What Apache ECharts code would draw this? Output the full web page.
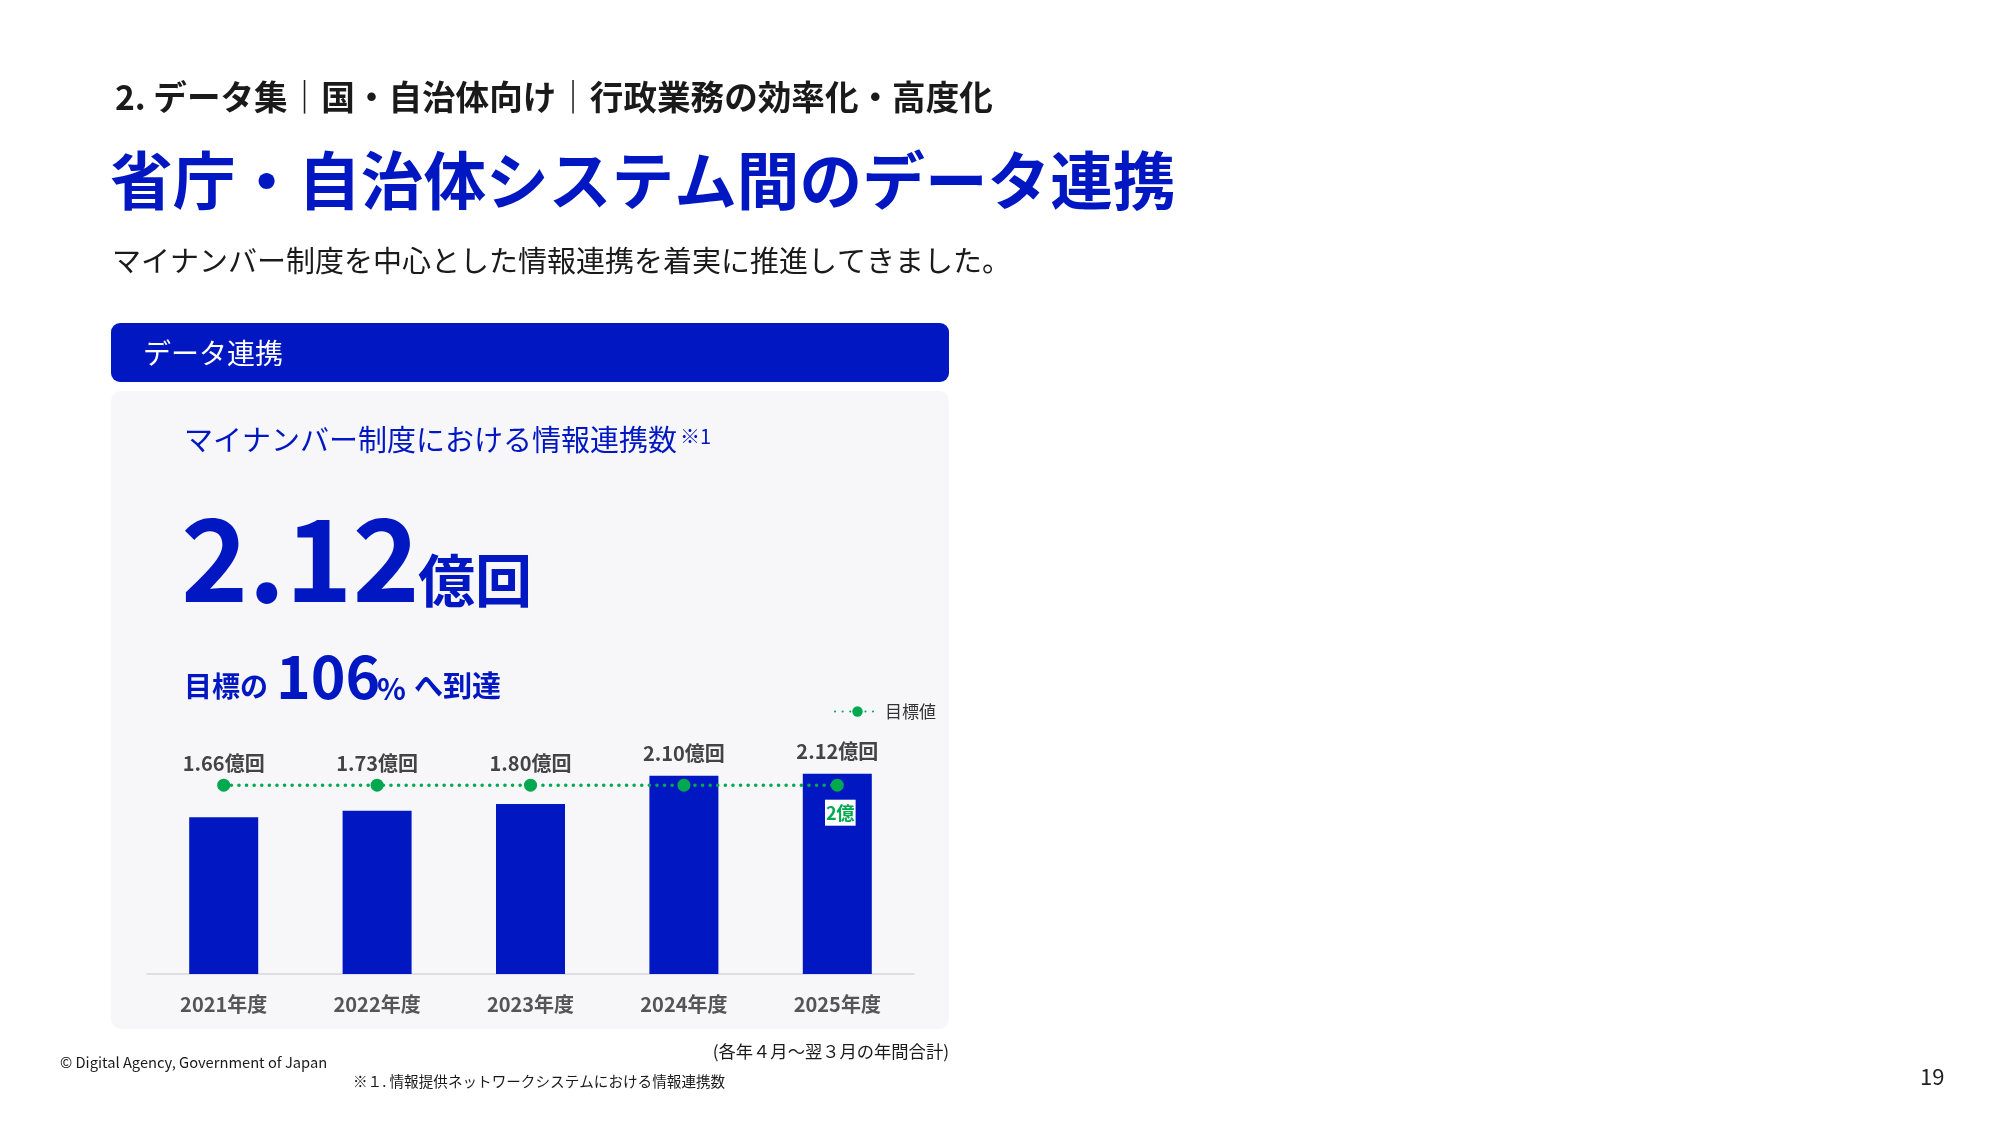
<!DOCTYPE html>
<html>
<head>
<meta charset="utf-8">
<script src="https://cdn.jsdelivr.net/npm/echarts@6/dist/echarts.min.js"></script>
<style>
html,body{margin:0;padding:0;background:#fff;}
#c{width:2000px;height:1125px;}
</style>
</head>
<body>
<div id="c"></div>
<script>
const categories = ['2021年度', '2022年度', '2023年度', '2024年度', '2025年度'];
const actualValues = [1.66, 1.73, 1.80, 2.10, 2.12];
const targetValues = [2, 2, 2, 2, 2];
const valueUnit = '億回';
const targetLabel = '2億';
const legendName = '目標値';

const FONT = '"Noto Sans CJK JP", "Noto Sans", sans-serif';
const BLUE = '#0017C1';
const GREEN = '#00A84F';

const labelAnchor = actualValues.map((v, i) => Math.max(v, targetValues[i]));
const lastIdx = targetValues.length - 1;

const chart = echarts.init(document.getElementById('c'), null, {renderer: 'canvas'});

chart.setOption({
  backgroundColor: '#ffffff',
  animation: false,
  textStyle: {fontFamily: FONT},
  graphic: [
    {type: 'text', x: 115, y: 97, z: 10, style: {text: '2. データ集｜国・自治体向け｜行政業務の効率化・高度化', font: 'bold 33.6px ' + FONT, fill: '#1a1a1a', verticalAlign: 'middle'}},
    {type: 'text', x: 110, y: 180, z: 10, style: {text: '省庁・自治体システム間のデータ連携', font: 'bold 62.7px ' + FONT, fill: BLUE, verticalAlign: 'middle'}},
    {type: 'text', x: 112, y: 261, z: 10, style: {text: 'マイナンバー制度を中心とした情報連携を着実に推進してきました。', font: '29px ' + FONT, fill: '#1a1a1a', verticalAlign: 'middle'}},
    {type: 'rect', z: -5, shape: {x: 111, y: 323, width: 838, height: 59, r: 9}, style: {fill: BLUE}},
    {type: 'text', x: 143, y: 353, z: 10, style: {text: 'データ連携', font: '28px ' + FONT, fill: '#ffffff', verticalAlign: 'middle'}},
    {type: 'rect', z: -5, shape: {x: 111, y: 391, width: 838, height: 638, r: 10}, style: {fill: '#F7F7FA'}},
    {type: 'text', x: 184, y: 440, z: 10, style: {text: 'マイナンバー制度における情報連携数', font: '29px ' + FONT, fill: BLUE, verticalAlign: 'middle'}},
    {type: 'text', x: 680, y: 436, z: 10, style: {text: '※1', font: '20px ' + FONT, fill: BLUE, verticalAlign: 'middle'}},
    {type: 'text', x: 181, y: 559, z: 10, style: {text: '2.12', font: 'bold 114px ' + FONT, fill: BLUE, verticalAlign: 'middle'}},
    {type: 'text', x: 418, y: 580, z: 10, style: {text: '億回', font: 'bold 57px ' + FONT, fill: BLUE, verticalAlign: 'middle'}},
    {type: 'text', x: 184, y: 686, z: 10, style: {text: '目標の', font: 'bold 28px ' + FONT, fill: BLUE, verticalAlign: 'middle'}},
    {type: 'text', x: 276, y: 677, z: 10, style: {text: '106', font: 'bold 59px ' + FONT, fill: BLUE, verticalAlign: 'middle'}},
    {type: 'text', x: 377, y: 689, z: 10, style: {text: '%', font: 'bold 30px ' + FONT, fill: BLUE, verticalAlign: 'middle'}},
    {type: 'text', x: 414, y: 686, z: 10, style: {text: 'へ到達', font: 'bold 29px ' + FONT, fill: BLUE, verticalAlign: 'middle'}},
    {type: 'text', x: 60, y: 1062, z: 10, style: {text: '© Digital Agency, Government of Japan', font: '14.7px ' + FONT, fill: '#1a1a1a', verticalAlign: 'middle'}},
    {type: 'text', x: 949, y: 1051, z: 10, style: {text: '(各年４月～翌３月の年間合計)', font: '17.3px ' + FONT, fill: '#1a1a1a', align: 'right', verticalAlign: 'middle'}},
    {type: 'text', x: 353, y: 1081, z: 10, style: {text: '※１. 情報提供ネットワークシステムにおける情報連携数', font: '14.6px ' + FONT, fill: '#1a1a1a', verticalAlign: 'middle'}},
    {type: 'text', x: 1920, y: 1077, z: 10, style: {text: '19', font: '22px ' + FONT, fill: '#222', verticalAlign: 'middle'}}
  ],
  legend: {
    show: true,
    data: [legendName],
    left: 829,
    top: 698,
    itemWidth: 45,
    itemHeight: 13,
    itemGap: 10,
    textStyle: {fontFamily: FONT, fontSize: 17, color: '#333'}
  },
  grid: {left: 147, right: 1086, top: 738, bottom: 151, containLabel: false},
  xAxis: {
    type: 'category',
    data: categories,
    axisLine: {show: true, lineStyle: {color: '#d6d6de', width: 1.5}},
    axisTick: {show: false},
    axisLabel: {fontFamily: FONT, fontSize: 20, fontWeight: 'bold', color: '#555', margin: 20}
  },
  yAxis: {
    type: 'value', min: 0, max: 2.5, show: false,
    splitLine: {show: false}
  },
  series: [
    {
      type: 'bar',
      name: '実績',
      data: actualValues,
      barWidth: 69,
      itemStyle: {color: BLUE},
      z: 2
    },
    {
      type: 'line',
      name: legendName,
      data: targetValues.map((v, i) => i === lastIdx ? {
        value: v,
        label: {
          show: true, position: 'bottom', distance: 8, offset: [3, 0],
          fontFamily: FONT, fontSize: 18, fontWeight: 'bold', color: GREEN,
          backgroundColor: '#ffffff', padding: [4, 1, 4, 1],
          formatter: targetLabel
        }
      } : v),
      symbol: 'circle',
      symbolSize: 13,
      itemStyle: {color: GREEN, opacity: 1},
      lineStyle: {color: GREEN, width: 3.5, type: [0.1, 7.5], cap: 'round'},
      z: 5,
      label: {show: false},
      emphasis: {disabled: true}
    },
    {
      type: 'scatter',
      name: 'labels',
      data: labelAnchor,
      symbolSize: 0,
      z: 6,
      itemStyle: {opacity: 1, color: 'transparent'},
      label: {
        show: true, position: 'top', distance: 12,
        fontFamily: FONT, fontSize: 20, fontWeight: 'bold', color: '#444',
        formatter: p => actualValues[p.dataIndex].toFixed(2) + valueUnit
      },
      emphasis: {disabled: true}
    }
  ]
});
</script>
</body>
</html>
